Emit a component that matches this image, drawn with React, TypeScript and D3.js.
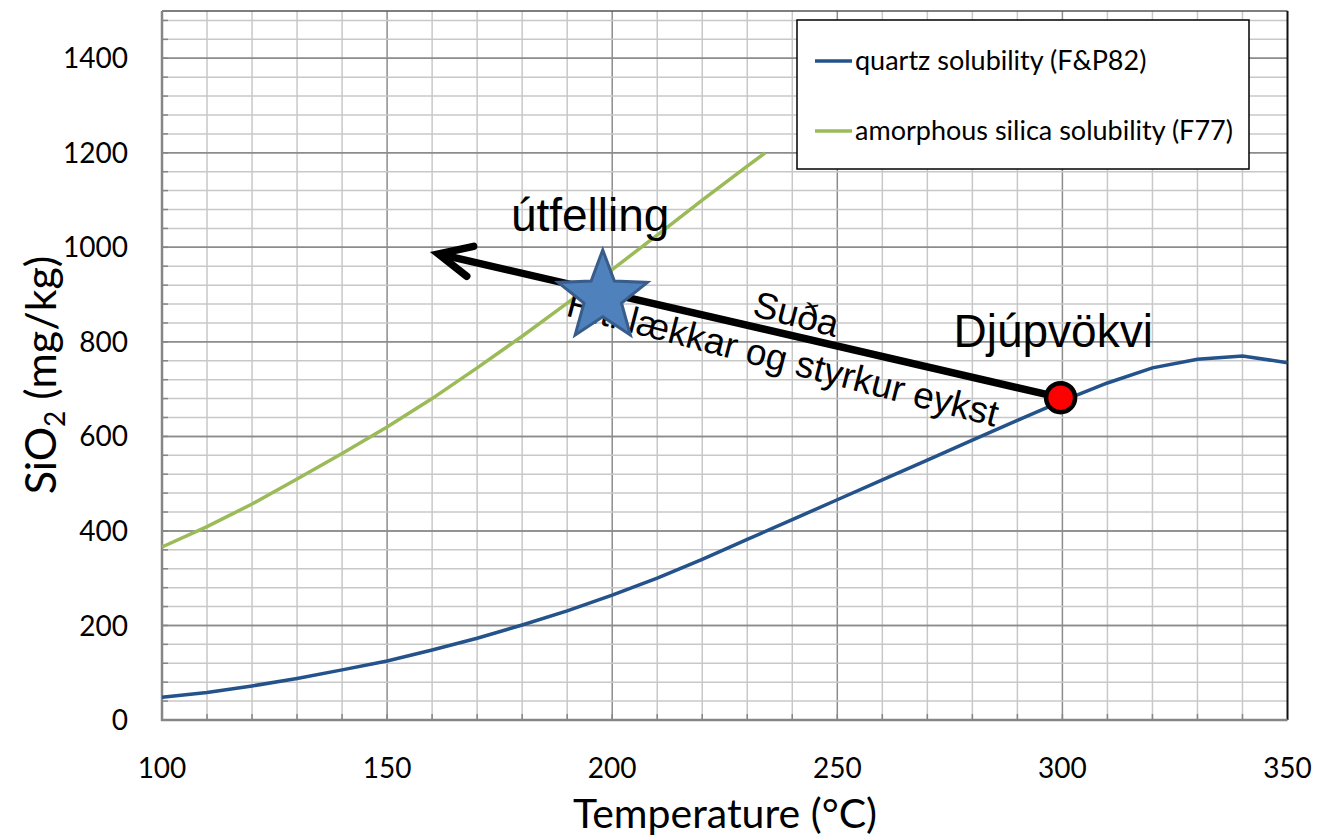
import { useEffect, useRef } from 'react';
import * as d3 from 'd3';

// quartz solubility (Fournier & Potter 1982), mg/kg at 10 °C steps
const temps = [100, 110, 120, 130, 140, 150, 160, 170, 180, 190, 200, 210, 220, 230, 240, 250, 260, 270, 280, 290, 300, 310, 320, 330, 340, 350];
const quartz = [48, 58, 72, 88, 106, 125, 148, 173, 201, 231, 264, 300, 340, 382, 424, 466, 508, 550, 592, 634, 675, 713, 745, 763, 770, 756];

// amorphous silica solubility (Fournier 1977)
const amorphTemps = [100, 110, 120, 130, 140, 150, 160, 170, 180, 190, 200, 210, 220, 230, 234];
const amorph = [366, 409, 457, 510, 564, 620, 680, 745, 812, 882, 953, 1026, 1100, 1172, 1200];

const xTicks = [100, 150, 200, 250, 300, 350];
const yTicks = [0, 200, 400, 600, 800, 1000, 1200, 1400];
const legendLabels = ['quartz solubility (F&P82)', 'amorphous silica solubility (F77)'];
const seriesColors = ['#24528A', '#9BBB59'];

// annotation anchors in data units (°C, mg/kg)
const deepFluid = [299.6, 682];
const arrowTip = [161.4, 986];
const starAt = [197.9, 895];
const labelUtfelling = [177.5, 1035];
const labelDjup = [275.8, 789];
const labelSuda = [240.2, 833];
const labelHiti = [237.2, 738];

const W = 1317;
const H = 839;

const App = () => {
  const svgRef = useRef(null);

  useEffect(() => {
    document.body.style.margin = '0';
    const svg = d3.select(svgRef.current);
    svg.selectAll('*').remove();

    const x = d3.scaleLinear().domain([100, 350]).range([162, 1287.5]);
    const y = d3.scaleLinear().domain([0, 1500]).range([720, 11]);
    const [x0, x1] = x.range();
    const [y0, y1] = y.range();
    const font = 'Lato, "Open Sans", sans-serif';

    svg.append('rect').attr('width', W).attr('height', H).attr('fill', '#fff');

    // gridlines
    const grid = svg.append('g');
    grid.selectAll('line.vx')
      .data(d3.range(110, 350, 10))
      .join('line')
      .attr('x1', d => x(d)).attr('x2', d => x(d))
      .attr('y1', y1).attr('y2', y0)
      .attr('stroke', d => d % 50 === 0 ? '#8c8c8c' : '#c8c8c8')
      .attr('stroke-width', 1.5);
    grid.selectAll('line.hy')
      .data(d3.range(40, 1500, 40).concat(d3.range(200, 1500, 200)))
      .join('line')
      .attr('x1', x0).attr('x2', x1)
      .attr('y1', d => y(d)).attr('y2', d => y(d))
      .attr('stroke', d => d % 200 === 0 ? '#8c8c8c' : '#c8c8c8')
      .attr('stroke-width', 1.5);

    // inner tick marks
    grid.selectAll('line.ty')
      .data(d3.range(40, 1500, 40))
      .join('line')
      .attr('x1', x0).attr('x2', x0 + 6)
      .attr('y1', d => y(d)).attr('y2', d => y(d))
      .attr('stroke', '#868686').attr('stroke-width', 1.5);
    grid.selectAll('line.tx')
      .data(d3.range(110, 350, 10))
      .join('line')
      .attr('x1', d => x(d)).attr('x2', d => x(d))
      .attr('y1', y0).attr('y2', y0 - 6)
      .attr('stroke', '#868686').attr('stroke-width', 1.5);

    // plot frame
    svg.append('line').attr('x1', x0).attr('x2', x1).attr('y1', y1).attr('y2', y1)
      .attr('stroke', '#555').attr('stroke-width', 1.5);
    svg.append('line').attr('x1', x1).attr('x2', x1).attr('y1', y1).attr('y2', y0)
      .attr('stroke', '#111').attr('stroke-width', 2);
    svg.append('line').attr('x1', x0).attr('x2', x0).attr('y1', y1).attr('y2', y0 + 1)
      .attr('stroke', '#868686').attr('stroke-width', 2.5);
    svg.append('line').attr('x1', x0 - 1).attr('x2', x1).attr('y1', y0).attr('y2', y0)
      .attr('stroke', '#868686').attr('stroke-width', 2.5);

    // tick labels
    svg.append('g').selectAll('text')
      .data(yTicks)
      .join('text')
      .attr('x', 128)
      .attr('y', d => y(d))
      .attr('dy', '0.36em')
      .attr('text-anchor', 'end')
      .style('font', `28px ${font}`)
      .text(d => d);
    svg.append('g').selectAll('text')
      .data(xTicks)
      .join('text')
      .attr('x', d => x(d))
      .attr('y', 778)
      .attr('text-anchor', 'middle')
      .style('font', `28px ${font}`)
      .text(d => d);

    // axis titles
    svg.append('text')
      .attr('x', 725)
      .attr('y', 828)
      .attr('text-anchor', 'middle')
      .style('font', `41px ${font}`)
      .text('Temperature (°C)');
    const yt = svg.append('text')
      .attr('transform', `translate(56,375) rotate(-90)`)
      .attr('text-anchor', 'middle')
      .style('font', `43px ${font}`);
    yt.append('tspan').text('SiO');
    yt.append('tspan').attr('font-size', '28px').attr('dy', 9).text('2');
    yt.append('tspan').attr('dy', -9).text(' (mg/kg)');

    // series
    const line = d3.line().x(d => x(d[0])).y(d => y(d[1]));
    const series = [
      d3.zip(temps, quartz),
      d3.zip(amorphTemps, amorph)
    ];
    svg.append('g').selectAll('path')
      .data(series)
      .join('path')
      .attr('d', d => line(d))
      .attr('fill', 'none')
      .attr('stroke', (d, i) => seriesColors[i])
      .attr('stroke-width', 3.5);

    // legend
    const lg = svg.append('g');
    lg.append('rect')
      .attr('x', 797).attr('y', 20).attr('width', 452).attr('height', 149)
      .attr('fill', '#fff').attr('stroke', '#000').attr('stroke-width', 1.5);
    legendLabels.forEach((lab, i) => {
      const ly = 61 + i * 70;
      lg.append('line')
        .attr('x1', 815).attr('x2', 852).attr('y1', ly).attr('y2', ly)
        .attr('stroke', seriesColors[i]).attr('stroke-width', 3.5);
      lg.append('text')
        .attr('x', 855).attr('y', ly).attr('dy', '0.35em')
        .style('font', `27px ${font}`)
        .text(lab);
    });

    // annotations
    const ann = svg.append('g');
    const p0 = [x(deepFluid[0]), y(deepFluid[1])];
    const p1 = [x(arrowTip[0]), y(arrowTip[1])];
    const ang = Math.atan2(p0[1] - p1[1], p0[0] - p1[0]);
    const angDeg = ang * 180 / Math.PI;

    ann.append('line')
      .attr('x1', p0[0]).attr('y1', p0[1]).attr('x2', p1[0] + 3 * Math.cos(ang)).attr('y2', p1[1] + 3 * Math.sin(ang))
      .attr('stroke', '#000').attr('stroke-width', 7.5);
    const armLen = 36;
    const arm = (da) => [p1[0] + armLen * Math.cos(ang + da), p1[1] + armLen * Math.sin(ang + da)];
    ann.append('path')
      .attr('d', d3.line()([arm(-0.44), p1, arm(0.44)]))
      .attr('fill', 'none').attr('stroke', '#000').attr('stroke-width', 7.5)
      .attr('stroke-linecap', 'round').attr('stroke-linejoin', 'miter');

    const armFont = 'Arial, "Liberation Sans", sans-serif';
    ann.append('text')
      .attr('x', x(labelUtfelling[0])).attr('y', y(labelUtfelling[1]))
      .style('font', `46px ${armFont}`)
      .text('útfelling');
    ann.append('text')
      .attr('x', x(labelDjup[0])).attr('y', y(labelDjup[1]))
      .style('font', `46px ${armFont}`)
      .text('Djúpvökvi');
    ann.append('text')
      .attr('transform', `translate(${x(labelSuda[0])},${y(labelSuda[1])}) rotate(${angDeg + 1.5})`)
      .attr('text-anchor', 'middle')
      .style('font', `37px ${armFont}`)
      .text('Suða');
    ann.append('text')
      .attr('transform', `translate(${x(labelHiti[0])},${y(labelHiti[1])}) rotate(${angDeg + 1.5})`)
      .attr('text-anchor', 'middle')
      .style('font', `37px ${armFont}`)
      .text('Hiti lækkar og styrkur eykst');

    // star
    const R = 47;
    const r = R * 0.42;
    const starPts = d3.range(10).map(k => {
      const a = -Math.PI / 2 + k * Math.PI / 5;
      const rr = k % 2 === 0 ? R : r;
      return [x(starAt[0]) + rr * Math.cos(a), y(starAt[1]) + rr * Math.sin(a)];
    });
    ann.append('path')
      .attr('d', d3.line().curve(d3.curveLinearClosed)(starPts))
      .attr('fill', '#4F81BD').attr('stroke', '#385D8A').attr('stroke-width', 3)
      .attr('stroke-linejoin', 'miter');

    // deep fluid point
    ann.append('circle')
      .attr('cx', p0[0]).attr('cy', p0[1]).attr('r', 14.5)
      .attr('fill', '#FF0000').attr('stroke', '#000').attr('stroke-width', 4.5);
  }, []);

  return (
    <div style={{ width: W, height: H }}>
      <svg ref={svgRef} width={W} height={H} style={{ display: 'block' }}></svg>
    </div>
  );
};

export default App;
